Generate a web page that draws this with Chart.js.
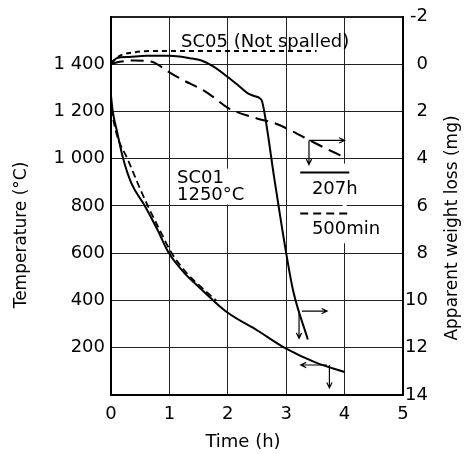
<!DOCTYPE html>
<html>
<head>
<meta charset="utf-8">
<script src="https://cdn.jsdelivr.net/npm/chart.js@4"></script>
<style>
  html, body { margin: 0; padding: 0; background: #fff; }
  canvas { display: block; }
</style>
</head>
<body>
<canvas id="chart" width="465" height="454"></canvas>
<script>
// SC01 furnace temperature, left axis (°C)
const tempTimeSolid = [0, 0.03, 0.1, 0.21, 0.35, 0.58, 0.8, 0.98, 1.25, 1.5, 1.75, 2.0, 2.5, 3.0, 3.5, 4.0];
const tempSolid = [1265, 1200, 1118, 998, 895, 800, 697, 605, 518, 458, 400, 348, 274, 196, 138, 97];
const tempTimeDashed = [0, 0.1, 0.29, 0.45, 0.63, 0.83, 1.04, 1.3, 1.55, 1.8];
const tempDashed = [1210, 1100, 995, 900, 800, 700, 600, 515, 455, 400];

// apparent weight loss, right axis (mg)
const lossTime207h = [0, 0.1, 0.3, 0.6, 1.0, 1.35, 1.55, 1.75, 2.0, 2.2, 2.35, 2.45, 2.55, 2.59, 2.8, 3.0, 3.12, 3.37];
const loss207h = [0, -0.25, -0.3, -0.35, -0.35, -0.25, -0.15, 0.1, 0.55, 0.95, 1.25, 1.35, 1.45, 1.6, 4.9, 8.0, 9.6, 11.65];
const lossTime500min = [0, 0.15, 0.4, 0.7, 0.85, 1.0, 1.25, 1.5, 1.7, 2.0, 2.5, 2.8, 3.07, 3.5, 4.0];
const loss500min = [0, -0.1, -0.15, -0.1, 0.1, 0.35, 0.7, 1.0, 1.3, 1.85, 2.3, 2.5, 2.8, 3.35, 3.95];
const lossTimeSC05 = [0, 0.15, 0.4, 0.7, 1.5, 2.5, 3.52];
const lossSC05 = [-0.05, -0.35, -0.5, -0.55, -0.55, -0.55, -0.55];

// tick labels
const timeTicks = [0, 1, 2, 3, 4, 5];
const tempTicks = [200, 400, 600, 800, 1000, 1200, 1400];
const tempTickLabels = ['200', '400', '600', '800', '1 000', '1 200', '1 400'];
const lossTicks = [-2, 0, 2, 4, 6, 8, 10, 12, 14];
const lossTickLabels = ['-2', '0', '2', '4', '6', '8', '10', '12', '14'];

const pts = (xs, ys) => xs.map((t, i) => ({ x: t, y: ys[i] }));

Chart.defaults.font.family = 'DejaVu Sans';
Chart.defaults.color = '#000';

function arrow(ctx, x1, y1, x2, y2) {
  const a = Math.atan2(y2 - y1, x2 - x1);
  const h = 6;
  ctx.beginPath();
  ctx.moveTo(x1, y1);
  ctx.lineTo(x2, y2);
  ctx.moveTo(x2 - h * Math.cos(a - 0.45), y2 - h * Math.sin(a - 0.45));
  ctx.lineTo(x2, y2);
  ctx.lineTo(x2 - h * Math.cos(a + 0.45), y2 - h * Math.sin(a + 0.45));
  ctx.stroke();
}

const annot = {
  id: 'annot',
  beforeDatasetsDraw(chart) {
    const { ctx, scales: { x, y } } = chart;
    ctx.save();
    ctx.fillStyle = '#fff';
    // the 4 h grid line is broken behind the key
    const x4 = x.getPixelForValue(4);
    ctx.fillRect(x4 - 2, y.getPixelForValue(979), 4, y.getPixelForValue(642) - y.getPixelForValue(979));
    // backdrop behind the SC01 label
    const bx = x.getPixelForValue(1.08), by = y.getPixelForValue(958);
    ctx.fillRect(bx, by, x.getPixelForValue(2.48) - bx, y.getPixelForValue(806) - by);
    ctx.restore();
  },
  afterDraw(chart) {
    const { ctx, scales: { x, y, y2 } } = chart;
    ctx.save();
    ctx.fillStyle = '#000';
    ctx.strokeStyle = '#000';

    // axis titles
    ctx.font = '17px "DejaVu Sans"';
    ctx.textAlign = 'center';
    ctx.textBaseline = 'middle';
    ctx.save();
    ctx.translate(22, 235);
    ctx.rotate(-Math.PI / 2);
    ctx.fillText('Temperature (\u00B0C)', 0, 0);
    ctx.restore();
    ctx.save();
    ctx.translate(453, 228);
    ctx.rotate(-Math.PI / 2);
    ctx.fillText('Apparent weight loss (mg)', 0, 0);
    ctx.restore();
    ctx.font = '18px "DejaVu Sans"';
    ctx.fillText('Time (h)', 243, 442);

    // curve labels
    ctx.fillText('SC05 (Not spalled)', x.getPixelForValue(2.64), y.getPixelForValue(1494));
    ctx.textAlign = 'left';
    ctx.fillText('SC01', x.getPixelForValue(1.13), y.getPixelForValue(916));
    ctx.fillText('1250\u00B0C', x.getPixelForValue(1.13), y.getPixelForValue(844));

    // key
    const kx1 = x.getPixelForValue(3.24), kx2 = x.getPixelForValue(4.08);
    ctx.lineWidth = 2;
    ctx.beginPath();
    ctx.moveTo(kx1, y.getPixelForValue(941));
    ctx.lineTo(kx2, y.getPixelForValue(941));
    ctx.stroke();
    ctx.setLineDash([8, 5]);
    ctx.beginPath();
    ctx.moveTo(kx1, y.getPixelForValue(768));
    ctx.lineTo(kx2, y.getPixelForValue(768));
    ctx.stroke();
    ctx.setLineDash([]);
    ctx.fillText('207h', x.getPixelForValue(3.44), y.getPixelForValue(869));
    ctx.fillText('500min', x.getPixelForValue(3.44), y.getPixelForValue(701));

    // axis arrows
    ctx.lineWidth = 1.2;
    arrow(ctx, x.getPixelForValue(3.39), y2.getPixelForValue(3.23), x.getPixelForValue(4.0), y2.getPixelForValue(3.23));
    arrow(ctx, x.getPixelForValue(3.39), y2.getPixelForValue(3.23), x.getPixelForValue(3.39), y2.getPixelForValue(4.25));
    arrow(ctx, x.getPixelForValue(3.27), y2.getPixelForValue(10.45), x.getPixelForValue(3.7), y2.getPixelForValue(10.45));
    arrow(ctx, x.getPixelForValue(3.22), y2.getPixelForValue(10.54), x.getPixelForValue(3.22), y2.getPixelForValue(11.6));
    arrow(ctx, x.getPixelForValue(3.7), y.getPixelForValue(127), x.getPixelForValue(3.25), y.getPixelForValue(127));
    arrow(ctx, x.getPixelForValue(3.74), y.getPixelForValue(127), x.getPixelForValue(3.74), y.getPixelForValue(30));
    ctx.restore();
  }
};

const line = (data, yAxisID, dash, width) => ({
  data, yAxisID,
  borderColor: '#000',
  borderWidth: width,
  borderDash: dash,
  pointRadius: 0,
  fill: false,
  cubicInterpolationMode: 'monotone'
});

new Chart(document.getElementById('chart'), {
  type: 'line',
  data: {
    datasets: [
      line(pts(tempTimeSolid, tempSolid), 'y', [], 2),
      line(pts(tempTimeDashed, tempDashed), 'y', [7, 4], 1.8),
      line(pts(lossTime207h, loss207h), 'y2', [], 2),
      line(pts(lossTime500min, loss500min), 'y2', [13, 7], 2),
      line(pts(lossTimeSC05, lossSC05), 'y2', [5, 4], 2)
    ]
  },
  options: {
    responsive: false,
    animation: false,
    devicePixelRatio: 1,
    layout: { padding: { top: 16, left: 0, right: 37, bottom: 0 } },
    plugins: { legend: { display: false }, tooltip: { enabled: false } },
    scales: {
      x: {
        type: 'linear', min: 0, max: 5,
        afterBuildTicks: s => { s.ticks = timeTicks.map(v => ({ value: v })); },
        afterFit: s => { s.height = 59; },
        ticks: { font: { size: 18 }, padding: 9, callback: v => String(v) },
        grid: { color: '#222', lineWidth: 1, drawTicks: false },
        border: { color: '#000', width: 2 }
      },
      y: {
        position: 'left', min: 0, max: 1600,
        afterBuildTicks: s => { s.ticks = [0, ...tempTicks, 1600].map(v => ({ value: v })); },
        afterFit: s => { s.width = 111; },
        ticks: {
          font: { size: 18 }, padding: 6,
          callback: v => { const i = tempTicks.indexOf(v); return i < 0 ? '' : tempTickLabels[i]; }
        },
        grid: { color: '#222', lineWidth: c => (c.tick && c.tick.value === 1600 ? 2 : 1), drawTicks: false },
        border: { color: '#000', width: 2 }
      },
      y2: {
        position: 'right', min: -2, max: 14, reverse: true,
        afterBuildTicks: s => { s.ticks = lossTicks.map(v => ({ value: v })); },
        afterFit: s => { s.width = 25; },
        ticks: {
          font: { size: 18 }, padding: 3, crossAlign: 'far',
          callback: v => { const i = lossTicks.indexOf(v); return i < 0 ? '' : lossTickLabels[i]; }
        },
        grid: { display: false, drawTicks: false },
        border: { color: '#000', width: 2 }
      }
    }
  },
  plugins: [annot]
});
</script>
</body>
</html>
